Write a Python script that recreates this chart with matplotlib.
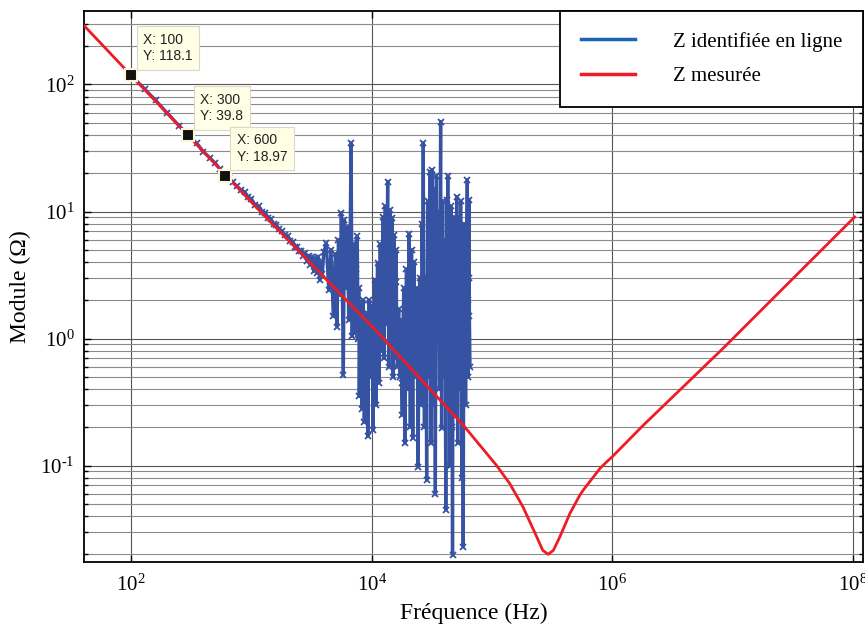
import math
import matplotlib
matplotlib.use("Agg")
import matplotlib.pyplot as plt
from matplotlib.ticker import FixedLocator, FuncFormatter, LogLocator, NullLocator
from matplotlib.lines import Line2D

plt.rcParams['font.family'] = ['Liberation Serif', 'DejaVu Serif']
plt.rcParams['mathtext.fontset'] = 'custom'
plt.rcParams['mathtext.rm'] = 'Liberation Serif'
plt.rcParams['mathtext.default'] = 'regular'
plt.rcParams['axes.unicode_minus'] = False

# ---------------- data ----------------
f_ident = [100, 130, 160, 200, 250, 300, 350, 400, 450, 500, 550, 600, 650, 700, 760, 820, 880, 940,
           1000, 1080, 1150, 1230, 1300, 1380, 1450, 1530, 1600, 1700, 1800, 1900, 2000, 2100, 2200,
           2300, 2400, 2500, 2600, 2700, 2800, 2900, 3000, 3100, 3200, 3300, 3400, 3500, 3600, 3700,
           3800, 3900, 4000, 4200, 4400, 4600, 4800, 5000, 5150, 5300, 5500, 5600, 5700, 5820, 5950,
           6100, 6300, 6450, 6600, 6750, 6900, 7050, 7200, 7400,
           7600, 7680, 7750, 7820, 7900, 8000, 8100, 8200, 8300, 8400, 8500, 8600, 8700, 8800, 8900,
           9000, 9100, 9200, 9300, 9420, 9550, 9680, 9800, 9900, 10000, 10150, 10300, 10450, 10600,
           10750, 10900, 11050, 11200, 11350, 11500, 11650, 11800, 11950, 12100, 12250, 12400, 12550,
           12700, 12850, 13000, 13150, 13300, 13450, 13600, 13750, 13900, 14050, 14200, 14350, 14500,
           14650, 14800, 14950, 15100, 15250, 15400, 15550, 15700, 15850, 16000, 16200, 16400, 16600,
           16800, 17000, 17200, 17400, 17600, 17800, 18000, 18250, 18500, 18750, 19000, 19250, 19500,
           19750, 20000, 20250, 20500, 20750, 21000, 21250, 21500, 21750, 22000, 22250, 22500, 22750,
           23000, 23350, 23700, 24050, 24400, 24750, 25100, 25450, 25800, 26050, 26300, 26600, 26900,
           27200, 27500, 27800, 28100, 28400, 28700, 29000, 29300, 29650, 30000, 30300, 30600, 30900,
           31200, 31500, 31800, 32150, 32500, 32850, 33200, 33550, 33900, 34250, 34600, 34950, 35300,
           35650, 36000, 36350, 36700, 37100, 37500, 37850, 38200, 38600, 39000, 39400, 39800, 40200,
           40600, 41000, 41400, 41800, 42200, 42600, 43000, 43400, 43800, 44250, 44700, 45150, 45600,
           46000, 46400, 46750, 47100, 47550, 48000, 48500, 49000, 49500, 50000, 50500, 51000, 51500,
           52000, 52500, 53000, 53500, 54000, 54500, 55000, 55750, 56500, 57150, 57800, 58400, 59000,
           59750, 60500, 61500, 62500, 63000, 63500, 64000, 64500, 65100, 65800]
z_ident = [118.1, 92, 75, 59.5, 47.5, 39.8, 34.5, 29.6, 26.5, 24.1, 21.5, 18.97, 18.5, 17.0, 15.8, 14.8,
           14.2, 13.0, 12.6, 11.2, 11.0, 9.9, 9.8, 8.9, 8.7, 8.0, 7.9, 7.3, 7.0, 6.5, 6.4, 5.9, 5.8,
           5.3, 5.3, 4.9, 4.9, 4.5, 4.7, 4.1, 4.5, 3.8, 4.4, 3.4, 4.3, 3.3, 4.4, 2.9, 4.0, 3.2, 4.8,
           5.6, 2.4, 5.0, 1.5, 4.6, 1.24, 6.0, 2.2, 9.7, 3.0, 0.52, 8.5, 2.5, 7.5, 1.4, 4.0, 34.6,
           1.04, 5.5, 1.1, 3.5,
           6.36, 2.0, 1.0, 2.5, 0.35, 1.2, 1.8, 0.6, 0.28, 1.1, 2.0, 0.9, 0.22, 0.7, 1.5,
           0.4, 0.9, 1.6, 0.17, 0.8, 2.0, 1.0, 0.5, 1.8, 1.3, 0.6, 0.19, 1.2, 2.9,
           1.5, 0.3, 1.8, 3.9, 2.2, 0.45, 1.5, 5.5, 2.5, 0.8, 3.0, 9.0, 2.0,
           0.7, 4.0, 11.0, 3.0, 1.3, 5.0, 17.2, 2.5, 0.6, 3.5, 10.3, 1.8, 0.9,
           4.0, 8.9, 1.5, 0.5, 2.5, 6.5, 1.2, 0.7, 2.8, 5.0, 1.0, 0.6, 1.2,
           1.7, 0.9, 0.5, 1.4, 0.8, 0.45, 0.25, 1.2, 2.5, 0.8, 0.15, 1.5, 3.5,
           1.2, 0.4, 2.5, 6.6, 1.0, 0.2, 2.0, 5.0, 0.9, 0.165, 1.5, 4.0, 1.5,
           0.5, 1.2, 2.5, 0.6, 0.098, 1.0, 3.0, 0.8, 0.3, 2.0, 8.0, 3.0, 34.6,
           1.5, 0.2, 1.0, 3.0, 0.8, 0.077, 2.0, 12.0, 1.5, 0.5, 4.0, 20.5, 1.8,
           0.15, 5.0, 21.3, 1.2, 0.3, 4.0, 15.0, 1.0, 0.06, 3.0, 19.0, 2.5, 0.9,
           3.5, 10.0, 1.2, 0.4, 6.0, 51.0, 2.0, 0.197, 3.0, 12.0, 1.5, 0.5, 2.5,
           6.0, 0.8, 0.045, 2.0, 12.4, 3.0, 18.9, 1.0, 0.3, 1.5, 0.1, 2.5, 11.0,
           2.0, 0.7, 0.2, 0.0197, 1.5, 9.0, 1.5, 0.25, 2.0, 7.0, 3.0, 13.1, 1.0,
           0.15, 2.0, 9.1, 1.5, 0.4, 3.0, 12.0, 1.0, 0.08, 0.5, 0.023, 1.0, 8.0,
           1.5, 0.3, 3.0, 17.8, 2.0, 0.5, 3.0, 12.4, 1.5, 0.6]

f_mes = [40.6, 100, 1000, 11750, 17200, 57800, 109600, 141000, 182000, 236000, 265000, 294000,
         325000, 368000, 446000, 540000, 575000, 794000, 902000, 1.0e6, 1.82e6, 4.45e6, 8.4e6,
         3.0e7, 1.04e8]
z_mes = [291, 118.1, 11.85, 1.07, 0.72, 0.208, 0.1, 0.072, 0.047, 0.0275, 0.0215, 0.02,
         0.0215, 0.0275, 0.042, 0.0586, 0.064, 0.095, 0.107, 0.117, 0.208, 0.47, 0.84,
         2.8, 9.05]

tips_f = [100, 300, 600]
tips_z = [118.1, 39.8, 18.97]
tips_lbl = ["X: 100\nY: 118.1", "X: 300\nY: 39.8", "X: 600\nY: 18.97"]

xticks = [1e2, 1e4, 1e6, 1e8]
yticks = [1e-1, 1e0, 1e1, 1e2]
legend_labels = ["Z identifiée en ligne", "Z mesurée"]

# ---------------- figure ----------------
fig = plt.figure(figsize=(8.65, 6.26), dpi=100)
ax = fig.add_axes([84 / 865, 64 / 626, 779 / 865, 551 / 626])
ax.set_xscale('log')
ax.set_yscale('log')
ax.set_xlim(40.6, 1.22e8)
ax.set_ylim(0.0174, 379)

ax.plot(f_ident, z_ident, color='#3652a3', lw=2.4, marker='x', ms=4.5, mew=1.3, zorder=3)
ax.plot(f_mes, z_mes, color='#ee1c24', lw=2.0, zorder=4)


def exp_fmt(v, p):
    e = int(round(math.log10(v)))
    if e < 0:
        return r'$10^{\text{-}%d}$' % (-e)
    return r'$10^{%d}$' % e


# ticks and grid
ax.xaxis.set_major_locator(FixedLocator(xticks))
ax.xaxis.set_minor_locator(NullLocator())
ax.yaxis.set_major_locator(FixedLocator(yticks))
ax.yaxis.set_minor_locator(LogLocator(base=10, subs=range(2, 10), numticks=20))
ax.xaxis.set_major_formatter(FuncFormatter(exp_fmt))
ax.yaxis.set_major_formatter(FuncFormatter(exp_fmt))
ax.grid(True, which='major', color='#555555', lw=0.8)
ax.grid(True, which='minor', axis='y', color='#8a8a8a', lw=0.8)
ax.set_axisbelow(True)

ax.tick_params(which='both', direction='in', top=True, right=True, labelsize=15, width=1.0)
ax.tick_params(which='major', length=5)
ax.tick_params(which='minor', length=3)
ax.tick_params(axis='x', pad=9)
ax.tick_params(axis='y', pad=7)
for s in ax.spines.values():
    s.set_linewidth(1.3)

ax.set_xlabel('Fréquence (Hz)', fontsize=17, labelpad=5)
ax.set_ylabel('Module (Ω)', fontsize=17, labelpad=6)

# data tips
for fx, zy, lbl in zip(tips_f, tips_z, tips_lbl):
    ax.plot([fx], [zy], marker='s', ms=8, mfc='#111111', mec='#fbf6d8', mew=1.5, zorder=6)
    ax.annotate(lbl, xy=(fx, zy), xytext=(12, 12), textcoords='offset pixels',
                ha='left', va='bottom', fontsize=10, family='Liberation Sans', color='#222222',
                linespacing=1.25,
                bbox=dict(boxstyle='square,pad=0.45', fc='#ffffe5', ec='#d8d8cc', lw=0.8),
                zorder=7)

# legend
handles = [Line2D([], [], color='#1f63b5', lw=2.5), Line2D([], [], color='#ee1c24', lw=2.5)]
leg = ax.legend(handles, legend_labels, loc='upper right', fontsize=15, frameon=True,
                fancybox=False, framealpha=1, edgecolor='black', borderaxespad=0,
                handlelength=2.6, handletextpad=1.8, borderpad=1.0, labelspacing=0.7)
leg.get_frame().set_linewidth(1.3)
leg.set_zorder(10)

fig.savefig('out.png', dpi=100)
